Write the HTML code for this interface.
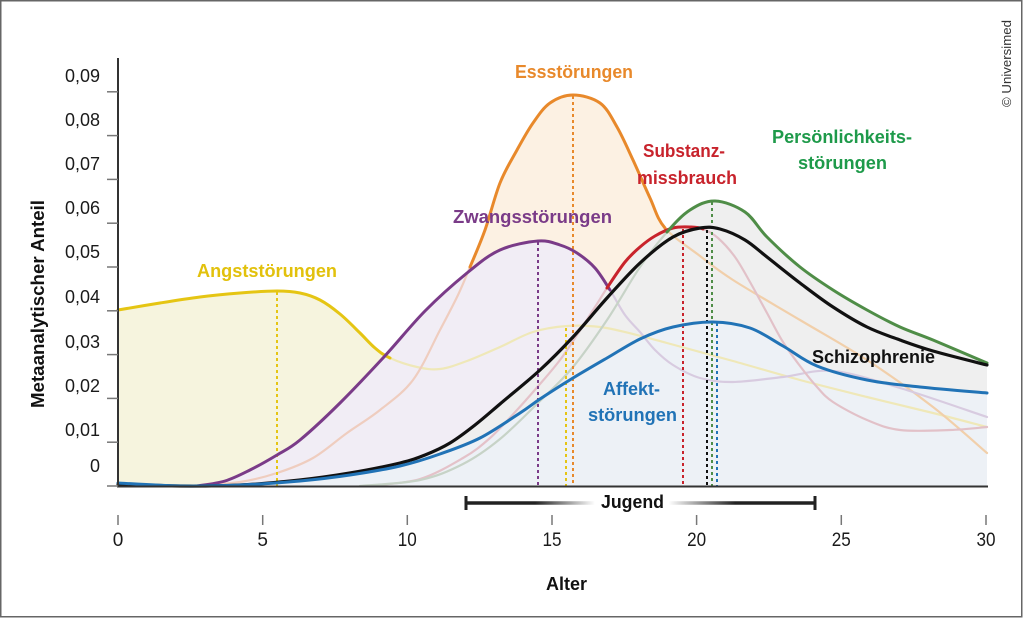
<!DOCTYPE html>
<html><head><meta charset="utf-8"><style>
html,body{margin:0;padding:0;background:#fff;}
svg{display:block;}
text{font-family:"Liberation Sans",Arial,sans-serif;}
.b{font-weight:bold;}
</style></head><body>
<svg id="s" width="1024" height="618" viewBox="0 0 1024 618" xmlns="http://www.w3.org/2000/svg">
<defs>
<linearGradient id="jg" gradientUnits="userSpaceOnUse" x1="465" y1="0" x2="816" y2="0">
<stop offset="0" stop-color="#222"/><stop offset="0.2" stop-color="#222"/>
<stop offset="0.37" stop-color="#222" stop-opacity="0"/><stop offset="0.58" stop-color="#222" stop-opacity="0"/>
<stop offset="0.77" stop-color="#222"/><stop offset="1" stop-color="#222"/>
</linearGradient>
</defs>
<rect x="0" y="0" width="1024" height="618" fill="#fff"/>
<rect x="0.75" y="0.75" width="1021" height="616" fill="none" stroke="#666" stroke-width="1.5"/>

<!-- fills -->
<path id="fY" fill="#f6f4de"/>
<path id="fO" fill="#fcf1e3"/>
<path id="fP" fill="#f1edf5"/>
<path id="fG" fill="#efefef"/>
<path id="fB" fill="#edf1f6"/>

<!-- faint lines -->
<g fill="none" stroke-width="2.2" stroke-linecap="round">
<path id="lYf" stroke="#efe8b8"/>
<path id="lOs" stroke="#efcdbf"/>
<path id="lOf" stroke="#f1cfaa"/>
<path id="lPf" stroke="#d8cbe0"/>
<path id="lRp" stroke="#e4c2c9"/>
<path id="lRf" stroke="#e2c1c8"/>
<path id="lGf" stroke="#c7d3c7"/>
</g>

<!-- dashed verticals -->
<g stroke-width="2" stroke-dasharray="3 3">
<line x1="277" y1="292" x2="277" y2="486" stroke="#e5c513"/>
<line x1="538" y1="242" x2="538" y2="486" stroke="#7a3b88"/>
<line x1="566" y1="328" x2="566" y2="486" stroke="#e5c513"/>
<line x1="573" y1="96" x2="573" y2="486" stroke="#e8892b"/>
<line x1="683" y1="229" x2="683" y2="486" stroke="#c8232c"/>
<line x1="707" y1="230" x2="707" y2="486" stroke="#111"/>
<line x1="712" y1="202" x2="712" y2="486" stroke="#4f8d47"/>
<line x1="717" y1="323" x2="717" y2="486" stroke="#2173b6"/>
</g>

<!-- solid lines -->
<g fill="none" stroke-width="3" stroke-linecap="round" stroke-linejoin="round">
<path id="lY" stroke="#e5c513"/>
<path id="lO" stroke="#e8892b"/>
<path id="lP" stroke="#7a3b88"/>
<path id="lR" stroke="#c8232c"/>
<path id="lG" stroke="#4f8d47"/>
<path id="lK" stroke="#111" stroke-width="3.2"/>
<path id="lB" stroke="#2173b6"/>
</g>

<!-- axes -->
<line x1="118" y1="58" x2="118" y2="487" stroke="#333" stroke-width="2"/>
<line x1="117" y1="486.5" x2="988" y2="486.5" stroke="#333" stroke-width="2"/>
<g stroke="#777" stroke-width="1.5">
<line x1="107" y1="486" x2="118" y2="486"/><line x1="107" y1="442.2" x2="118" y2="442.2"/>
<line x1="107" y1="398.4" x2="118" y2="398.4"/><line x1="107" y1="354.6" x2="118" y2="354.6"/>
<line x1="107" y1="310.8" x2="118" y2="310.8"/><line x1="107" y1="267" x2="118" y2="267"/>
<line x1="107" y1="223.2" x2="118" y2="223.2"/><line x1="107" y1="179.4" x2="118" y2="179.4"/>
<line x1="107" y1="135.6" x2="118" y2="135.6"/><line x1="107" y1="91.8" x2="118" y2="91.8"/>
<line x1="118" y1="515" x2="118" y2="525"/><line x1="262.7" y1="515" x2="262.7" y2="525"/>
<line x1="407.3" y1="515" x2="407.3" y2="525"/><line x1="552" y1="515" x2="552" y2="525"/>
<line x1="696.6" y1="515" x2="696.6" y2="525"/><line x1="841.3" y1="515" x2="841.3" y2="525"/>
<line x1="986" y1="515" x2="986" y2="525"/>
</g>
<g font-size="18" fill="#1a1a1a" text-anchor="end">
<text x="100" y="82">0,09</text><text x="100" y="126">0,08</text><text x="100" y="170">0,07</text>
<text x="100" y="214">0,06</text><text x="100" y="258">0,05</text><text x="100" y="303">0,04</text>
<text x="100" y="348">0,03</text><text x="100" y="392">0,02</text><text x="100" y="436">0,01</text>
<text x="100" y="472">0</text>
</g>
<g font-size="19" fill="#1a1a1a" text-anchor="middle">
<text x="118" y="546">0</text><text x="262.7" y="546">5</text>
<text x="407.3" y="546" textLength="19" lengthAdjust="spacingAndGlyphs">10</text>
<text x="552" y="546" textLength="19" lengthAdjust="spacingAndGlyphs">15</text>
<text x="696.6" y="546" textLength="19" lengthAdjust="spacingAndGlyphs">20</text>
<text x="841.3" y="546" textLength="19" lengthAdjust="spacingAndGlyphs">25</text>
<text x="986" y="546" textLength="19" lengthAdjust="spacingAndGlyphs">30</text>
</g>
<text class="b" x="546" y="590" font-size="18" fill="#111" textLength="41" lengthAdjust="spacingAndGlyphs">Alter</text>
<text class="b" transform="translate(44,408) rotate(-90)" font-size="18" fill="#111" textLength="208" lengthAdjust="spacingAndGlyphs">Metaanalytischer Anteil</text>

<!-- Jugend bar -->
<line x1="465" y1="503" x2="816" y2="503" stroke="url(#jg)" stroke-width="3.5"/>
<line x1="466" y1="496" x2="466" y2="510" stroke="#222" stroke-width="3"/>
<line x1="815" y1="496" x2="815" y2="510" stroke="#222" stroke-width="3"/>
<text class="b" x="601" y="508" font-size="18" fill="#111" textLength="63" lengthAdjust="spacingAndGlyphs">Jugend</text>

<!-- series labels -->
<g class="b" font-size="18" font-weight="bold">
<text x="197" y="277" fill="#e2c10c" textLength="140" lengthAdjust="spacingAndGlyphs">Angststörungen</text>
<text x="515" y="78" fill="#e8892b" textLength="118" lengthAdjust="spacingAndGlyphs">Essstörungen</text>
<text x="643" y="157" fill="#c8232c" textLength="82" lengthAdjust="spacingAndGlyphs">Substanz-</text>
<text x="637" y="184" fill="#c8232c" textLength="100" lengthAdjust="spacingAndGlyphs">missbrauch</text>
<text x="453" y="223" fill="#7a3b88" textLength="159" lengthAdjust="spacingAndGlyphs">Zwangsstörungen</text>
<text x="603" y="395" fill="#2173b6" textLength="57" lengthAdjust="spacingAndGlyphs">Affekt-</text>
<text x="588" y="421" fill="#2173b6" textLength="89" lengthAdjust="spacingAndGlyphs">störungen</text>
<text x="772" y="143" fill="#1e9a4a" textLength="140" lengthAdjust="spacingAndGlyphs">Persönlichkeits-</text>
<text x="798" y="169" fill="#1e9a4a" textLength="89" lengthAdjust="spacingAndGlyphs">störungen</text>
<text x="812" y="363" fill="#111" textLength="123" lengthAdjust="spacingAndGlyphs">Schizophrenie</text>
</g>
<text transform="translate(1011,107) rotate(-90)" font-size="13" fill="#333" textLength="87" lengthAdjust="spacingAndGlyphs">© Universimed</text>
</svg>
<script>
(function(){
var BASE=486;
function F(p,a,b){if(a===undefined)a=0;if(b===undefined)b=p.length-1;
var d='M'+p[a][0]+','+p[a][1];
for(var i=a;i<b;i++){var p0=p[i-1]||p[i],p1=p[i],p2=p[i+1],p3=p[i+2]||p2;
var c1x=p1[0]+(p2[0]-p0[0])/6,c1y=p1[1]+(p2[1]-p0[1])/6,c2x=p2[0]-(p3[0]-p1[0])/6,c2y=p2[1]-(p3[1]-p1[1])/6;
d+='C'+c1x.toFixed(1)+','+c1y.toFixed(1)+' '+c2x.toFixed(1)+','+c2y.toFixed(1)+' '+p2[0]+','+p2[1];}
return d;}
function FF(p,a,b){if(a===undefined)a=0;if(b===undefined)b=p.length-1;return F(p,a,b)+'L'+p[b][0]+','+BASE+'L'+p[a][0]+','+BASE+'Z';}
function S(id,d){document.getElementById(id).setAttribute('d',d);}
var Y=[[118,310],[160,303],[200,297],[240,293],[277,291],[300,293],[320,300],[340,314],[360,333],[375,348],[390,358],
[417,367],[440,369],[467,361],[500,347],[533,332],[567,326],[600,327],[633,334],[667,343],[733,361],[800,380],[867,397],[933,413],[987,427]];
var O=[[190,486],[240,482],[277,473],[313,458],[347,433],[380,410],[413,380],[440,330],[458,295],[470,267],
[485,230],[500,183],[517,150],[533,123],[550,103],[573,95],[600,103],[617,127],[633,160],[650,198],[665,228],
[700,256],[733,280],[800,320],[867,360],[933,407],[987,453]];
var P=[[197,486],[225,481],[250,470],[277,455],[300,440],[340,403],[383,358],[425,311],[467,273],[500,250],[538,241],[560,245],[577,253],[595,268],[610,290],
[625,315],[640,332],[655,350],[673,365],[700,378],[733,382],[783,377],[833,371],[900,388],[987,417]];
var R=[[370,486],[420,479],[463,458],[490,438],[517,410],[540,384],[560,360],[577,335],[595,307],[607,288],
[625,262],[640,247],[655,236],[673,228],[690,227],[703,229],
[718,238],[735,257],[750,282],[767,313],[783,342],[800,366],[817,387],[833,402],[867,420],[900,430],[950,430],[987,427]];
var G=[[360,486],[420,480],[463,464],[500,439],[540,401],[573,367],[607,320],[640,267],[667,232],
[690,210],[715,201],[745,212],[767,237],[800,267],[833,290],[867,310],[900,327],[933,340],[987,363]];
var K=[[118,484],[180,486],[240,485],[300,480],[350,473],[400,463],[425,455],[450,443],[475,425],[500,404],[540,370],[573,337],[607,298],[640,263],[673,237],[700,228],[720,229],[745,240],[767,257],[800,283],[833,307],[867,327],[900,340],[933,351],[987,365]];
var B=[[118,483],[180,486],[240,485],[300,481],[350,475],[400,466],[440,454],[480,438],[520,413],[540,399],[573,378],[607,358],[640,339],[673,327],[713,322],[750,328],[783,346],[817,366],[867,380],[920,387],[987,393]];
var E=K.slice(0,12).concat([[607,290],[640,248],[665,232],[690,210],[715,201],[745,212],[767,237],[800,267],[833,290],[867,310],[900,327],[933,340],[987,363]]);
S('fY',FF(Y,0,10));
S('fO',FF(O));
S('fP',FF(P));
S('fG',FF(E));
S('fB',FF(B));
S('lYf',F(Y,10,Y.length-1));
S('lOs',F(O,0,9));
S('lOf',F(O,20,O.length-1));
S('lPf',F(P,14,P.length-1));
S('lRp',F(R,0,9));
S('lRf',F(R,15,R.length-1));
S('lGf',F(G,0,8));
S('lY',F(Y,0,10));
S('lO',F(O,9,20));
S('lP',F(P,0,14));
S('lR',F(R,9,15));
S('lG',F(G,8,G.length-1));
S('lK',F(K));
S('lB',F(B));
})();
</script>
</body></html>
